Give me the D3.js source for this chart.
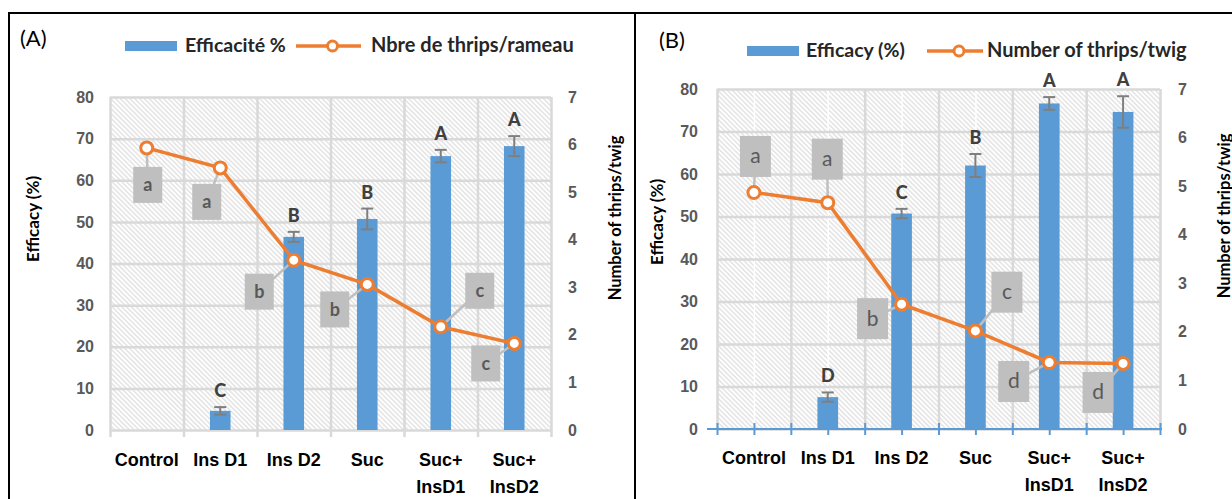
<!DOCTYPE html>
<html>
<head>
<meta charset="utf-8">
<script src="https://cdn.jsdelivr.net/npm/d3@7"></script>
<style>
body { margin: 0; background: #fff; }
svg { display: block; font-family: Lato, "Liberation Sans", sans-serif; }
</style>
</head>
<body>
<script>
//chart data
var categories = [["Control"], ["Ins D1"], ["Ins D2"], ["Suc"], ["Suc+", "InsD1"], ["Suc+", "InsD2"]];
var effTicks = [0, 10, 20, 30, 40, 50, 60, 70, 80];
var thripsTicks = [0, 1, 2, 3, 4, 5, 6, 7];

var efficacyA = [0, 4.6, 46.4, 50.7, 65.8, 68.2];
var errorA = [0, 0.9, 1.2, 2.5, 1.5, 2.4];
var effLettersA = ["", "C", "B", "B", "A", "A"];
var thripsA = [5.93, 5.51, 3.57, 3.06, 2.17, 1.82];
var thripsLettersA = ["a", "a", "b", "b", "c", "c"];

var efficacyB = [0, 7.5, 50.7, 62.0, 76.6, 74.6];
var errorB = [0, 1.1, 1.1, 2.7, 1.5, 3.7];
var effLettersB = ["", "D", "C", "B", "A", "A"];
var thripsB = [4.87, 4.66, 2.57, 2.02, 1.37, 1.35];
var thripsLettersB = ["a", "a", "b", "c", "d", "d"];

//where the callout boxes sit relative to their point (layout only)
var calloutOffsetA = [[1, 37], [-13.5, 34], [-34.5, 31.5], [-32.5, 25], [39, -36], [-28.5, 20]];
var calloutOffsetB = [[1.5, -36], [-0.5, -43.5], [-29, 14.5], [31.5, -38.7], [-35.5, 19], [-25, 29]];

var width = 1232,
    height = 499,
    blue = '#5b9bd5',
    orange = '#ed7d31',
    grid = '#d9d9d9',
    labelGrey = '#595959';

var svg = d3.select('body').append('svg')
    .attr('width', width)
    .attr('height', height);

//diagonal hatch used as the plot background
svg.append('defs').append('pattern')
    .attr('id', 'hatch')
    .attr('width', 3.4)
    .attr('height', 3.4)
    .attr('patternUnits', 'userSpaceOnUse')
    .attr('patternTransform', 'rotate(-45)')
  .append('line')
    .attr('x1', 1.7).attr('y1', 0).attr('x2', 1.7).attr('y2', 3.4)
    .attr('stroke', '#d8d8d8')
    .attr('stroke-width', 1.1);

//panel frames
svg.append('rect')
    .attr('x', 9).attr('y', 13).attr('width', 626).attr('height', 500)
    .attr('fill', 'none').attr('stroke', '#000').attr('stroke-width', 2);
svg.append('rect')
    .attr('x', 635).attr('y', 13).attr('width', 620).attr('height', 500)
    .attr('fill', 'none').attr('stroke', '#000').attr('stroke-width', 2);

var drawPanel = function(p, eff, err, effLetters, thrips, thripsLetters, offsets){
  var g = svg.append('g');
  var n = categories.length;
  var x = d3.scaleBand().domain(d3.range(n)).range([p.left, p.right]);
  var xb = d3.scaleLinear().domain([0, n]).range([p.left, p.right]);
  var y = d3.scaleLinear().domain([0, 80]).range([p.bottom, p.top]);
  var y2 = d3.scaleLinear().domain([0, 7]).range([p.bottom, p.top]);
  var cx = function(i){ return x(i) + x.bandwidth() / 2; };
  var barW = x.bandwidth() * 0.28;

  //hatched plot area
  g.append('rect')
      .attr('x', p.left).attr('y', p.top)
      .attr('width', p.right - p.left).attr('height', p.bottom - p.top)
      .attr('fill', 'url(#hatch)');

  //white minor lines at category centres (panel B only)
  if (p.centreLines) {
    g.append('g').attr('transform', 'translate(0,' + p.bottom + ')')
        .call(d3.axisBottom(xb).tickValues(d3.range(n).map(function(i){ return i + 0.5; }))
          .tickSize(-(p.bottom - p.top)).tickFormat(''))
        .call(function(a){
          a.select('.domain').remove();
          a.selectAll('line').attr('stroke', '#fff').attr('stroke-width', 1.5);
        });
  }

  //gridlines
  g.append('g').attr('transform', 'translate(' + p.left + ',0)')
      .call(d3.axisLeft(y).tickValues(effTicks).tickSize(-(p.right - p.left)).tickFormat(''))
      .call(function(a){
        a.select('.domain').remove();
        a.selectAll('line').attr('stroke', grid).attr('stroke-width', 2.5);
      });
  g.append('g').attr('transform', 'translate(0,' + p.bottom + ')')
      .call(d3.axisBottom(xb).tickValues(d3.range(n + 1)).tickSize(-(p.bottom - p.top)).tickFormat(''))
      .call(function(a){
        a.select('.domain').remove();
        a.selectAll('line').attr('stroke', grid).attr('stroke-width', 2.5);
      });

  //bottom axis ticks
  if (p.blueAxis) {
    g.append('g').attr('transform', 'translate(0,' + (p.bottom + 6) + ')')
        .call(d3.axisBottom(xb).tickValues(d3.range(0, n + 0.5, 0.5)).tickSize(-12).tickSizeOuter(0).tickFormat(''))
        .call(function(a){
          a.select('.domain').remove();
          a.selectAll('line').attr('stroke', blue).attr('stroke-width', 2);
        });
    g.append('line')
        .attr('x1', p.left - 10).attr('x2', p.right + 2)
        .attr('y1', p.bottom).attr('y2', p.bottom)
        .attr('stroke', blue).attr('stroke-width', 2);
  } else {
    g.append('g').attr('transform', 'translate(0,' + p.bottom + ')')
        .call(d3.axisBottom(xb).tickValues(d3.range(n + 1)).tickSize(7).tickFormat(''))
        .call(function(a){
          a.select('.domain').remove();
          a.selectAll('line').attr('stroke', grid).attr('stroke-width', 2.5);
        });
  }

  //tick labels
  g.append('g').attr('transform', 'translate(' + p.left + ',0)')
      .call(d3.axisLeft(y).tickValues(effTicks).tickSize(0).tickPadding(p.padL))
      .call(function(a){
        a.select('.domain').remove();
        a.selectAll('text').attr('fill', labelGrey).style('font-size', '16px').style('font-weight', 'bold');
      });
  g.append('g').attr('transform', 'translate(' + p.right + ',0)')
      .call(d3.axisRight(y2).tickValues(thripsTicks).tickFormat(d3.format('d')).tickSize(0).tickPadding(p.padR))
      .call(function(a){
        a.select('.domain').remove();
        a.selectAll('text').attr('fill', labelGrey).style('font-size', '16px').style('font-weight', 'bold');
      });
  g.append('g').attr('transform', 'translate(0,' + p.bottom + ')')
      .call(d3.axisBottom(x).tickSize(0).tickFormat(''))
      .call(function(a){
        a.select('.domain').remove();
        a.selectAll('.tick').each(function(d){
          var t = d3.select(this).append('text')
              .attr('fill', '#000')
              .attr('text-anchor', 'middle')
              .style('font-size', '18px')
              .style('font-weight', 'bold');
          categories[d].forEach(function(line, k){
            t.append('tspan').attr('x', 0).attr('y', p.xLabelY + k * 27).text(line);
          });
        });
      });

  //axis titles
  g.append('text')
      .attr('transform', 'translate(' + p.titleL[0] + ',' + p.titleL[1] + ') rotate(-90)')
      .attr('text-anchor', 'middle').attr('dy', '0.35em')
      .style('font-size', '17px').style('font-weight', 'bold')
      .text('Efficacy (%)');
  g.append('text')
      .attr('transform', 'translate(' + p.titleR[0] + ',' + p.titleR[1] + ') rotate(-90)')
      .attr('text-anchor', 'middle').attr('dy', '0.35em')
      .style('font-size', '16.5px').style('font-weight', 'bold')
      .text('Number of thrips/twig');

  //bars and error bars
  var idx = d3.range(n);
  g.append('g').selectAll('rect')
      .data(idx.filter(function(i){ return eff[i] > 0; }))
    .enter().append('rect')
      .attr('x', function(i){ return cx(i) - barW / 2; })
      .attr('y', function(i){ return y(eff[i]); })
      .attr('width', barW)
      .attr('height', function(i){ return y(0) - y(eff[i]); })
      .attr('fill', blue);

  var eb = g.append('g').attr('stroke', '#7f7f7f').attr('stroke-width', 2);
  idx.filter(function(i){ return err[i] > 0; }).forEach(function(i){
    eb.append('line').attr('x1', cx(i)).attr('x2', cx(i))
        .attr('y1', y(eff[i] + err[i])).attr('y2', y(eff[i] - err[i]));
    [eff[i] + err[i], eff[i] - err[i]].forEach(function(v){
      eb.append('line').attr('x1', cx(i) - 6).attr('x2', cx(i) + 6)
          .attr('y1', y(v)).attr('y2', y(v));
    });
  });

  g.append('g').selectAll('text')
      .data(idx.filter(function(i){ return effLetters[i] !== ''; }))
    .enter().append('text')
      .attr('x', cx)
      .attr('y', function(i){ return y(eff[i] + err[i]) - 10; })
      .attr('text-anchor', 'middle')
      .attr('fill', '#404040')
      .style('font-size', '18px').style('font-weight', '900')
      .text(function(i){ return effLetters[i]; });

  //thrips line
  var line = d3.line()
      .x(function(i){ return cx(i); })
      .y(function(i){ return y2(thrips[i]); });
  g.append('path')
      .datum(idx)
      .attr('d', line)
      .attr('fill', 'none')
      .attr('stroke', orange)
      .attr('stroke-width', 3.5);

  //callout leaders
  g.append('g').selectAll('line')
      .data(idx)
    .enter().append('line')
      .attr('x1', cx)
      .attr('y1', function(i){ return y2(thrips[i]); })
      .attr('x2', function(i){ return cx(i) + offsets[i][0]; })
      .attr('y2', function(i){ return y2(thrips[i]) + offsets[i][1]; })
      .attr('stroke', '#bfbfbf')
      .attr('stroke-width', 2.5);

  g.append('g').selectAll('circle')
      .data(idx)
    .enter().append('circle')
      .attr('cx', cx)
      .attr('cy', function(i){ return y2(thrips[i]); })
      .attr('r', 6)
      .attr('fill', '#fff')
      .attr('stroke', orange)
      .attr('stroke-width', 3);

  var box = g.append('g').selectAll('g')
      .data(idx)
    .enter().append('g')
      .attr('transform', function(i){
        return 'translate(' + (cx(i) + offsets[i][0]) + ',' + (y2(thrips[i]) + offsets[i][1]) + ')';
      });
  box.append('rect')
      .attr('x', -p.boxW / 2).attr('y', -p.boxH / 2)
      .attr('width', p.boxW).attr('height', p.boxH)
      .attr('fill', '#bfbfbf');
  box.append('text')
      .attr('text-anchor', 'middle')
      .attr('dy', p.boxDy)
      .attr('fill', labelGrey)
      .style('font-size', p.boxFont)
      .style('font-weight', p.boxWeight)
      .text(function(i){ return thripsLetters[i]; });

  //panel tag and legend
  var lg = p.legend;
  g.append('text').attr('x', lg.tag[0]).attr('y', lg.tag[1])
      .style('font-size', '22px').text(p.tag);
  g.append('rect').attr('x', lg.rect).attr('y', lg.y - 5).attr('width', 52).attr('height', 10).attr('fill', blue);
  g.append('text').attr('x', lg.text1).attr('y', lg.y + 6)
      .style('font-size', '19.5px').style('font-weight', 'bold').attr('fill', '#262626')
      .text(p.legendBar);
  g.append('line').attr('x1', lg.line[0]).attr('x2', lg.line[1]).attr('y1', lg.y).attr('y2', lg.y)
      .attr('stroke', orange).attr('stroke-width', 3.5);
  g.append('circle').attr('cx', (lg.line[0] + lg.line[1]) / 2 + 4).attr('cy', lg.y).attr('r', 5)
      .attr('fill', '#fff').attr('stroke', orange).attr('stroke-width', 3);
  g.append('text').attr('x', lg.text2).attr('y', lg.y + 6)
      .style('font-size', '20px').style('font-weight', 'bold').attr('fill', '#262626')
      .text(p.legendLine);
};

drawPanel({
  left: 110, right: 551, top: 97, bottom: 430,
  padL: 16, padR: 17, xLabelY: 36,
  titleL: [33, 219], titleR: [615, 218],
  boxW: 29, boxH: 36, boxFont: '18px', boxWeight: 'bold', boxDy: '0.35em',
  tag: '(A)', legendBar: 'Efficacité %', legendLine: 'Nbre de thrips/rameau',
  legend: { tag: [20, 46], y: 46, rect: 125, text1: 185, line: [296, 361], text2: 371 },
  centreLines: false, blueAxis: false
}, efficacyA, errorA, effLettersA, thripsA, thripsLettersA, calloutOffsetA);

drawPanel({
  left: 717, right: 1160, top: 89, bottom: 429,
  padL: 19, padR: 18, xLabelY: 35,
  titleL: [657, 222], titleR: [1224, 216],
  boxW: 31, boxH: 41, boxFont: '21px', boxWeight: 'normal', boxDy: '0.33em',
  tag: '(B)', legendBar: 'Efficacy (%)', legendLine: 'Number of thrips/twig',
  legend: { tag: [659, 48], y: 51, rect: 747, text1: 806, line: [927, 983], text2: 987 },
  centreLines: true, blueAxis: true
}, efficacyB, errorB, effLettersB, thripsB, thripsLettersB, calloutOffsetB);
</script>
</body>
</html>
